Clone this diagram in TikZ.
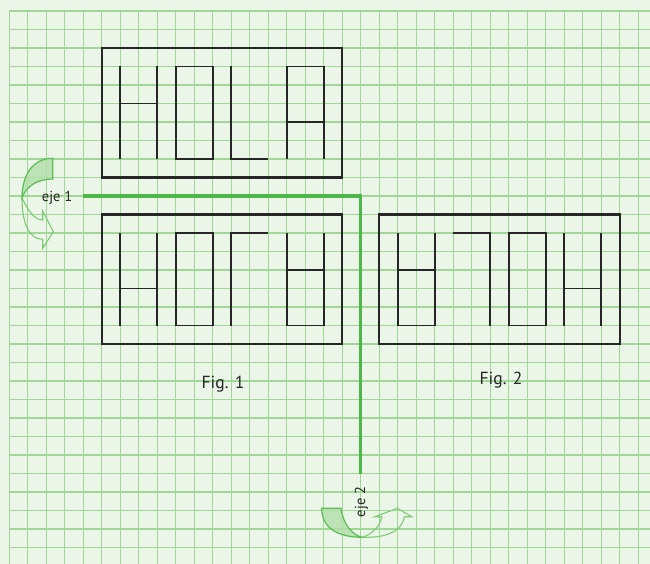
\documentclass[tikz,border=0pt]{standalone}
\usepackage{fontspec}
\setmainfont{PT Sans}
\definecolor{bgc}{RGB}{235,245,232}
\definecolor{gridc}{RGB}{160,214,150}
\definecolor{axisc}{RGB}{77,184,72}
\definecolor{ink}{RGB}{38,38,38}
\definecolor{arrc}{RGB}{92,190,82}
\definecolor{arrfill}{RGB}{178,222,170}
\begin{document}
\begin{tikzpicture}[x=1pt,y=-1pt,
  gridline/.style={gridc,line width=1.3pt},
  letter/.style={ink,line width=1.9pt},
  frame/.style={ink,line width=2.1pt},
  axisline/.style={axisc,line width=3pt},
  lbl/.style={text=ink,inner sep=0pt,font=\fontsize{14.5}{14.5}\selectfont},
  figlbl/.style={text=ink,inner sep=0pt,font=\fontsize{17.5}{17.5}\selectfont},
  front/.style={draw=arrc,line width=1.2pt,fill=arrfill,fill opacity=0.8},
  back/.style={draw=arrc!80,line width=1.1pt},
]
\useasboundingbox (0,0) rectangle (650,564);
\fill[bgc] (0,0) rectangle (650,564);
\foreach \k in {0,...,34} \draw[gridline] ({9.3+18.5*\k},11) -- ({9.3+18.5*\k},564);
\foreach \k in {0,...,29} \draw[gridline] (9.3,{11+18.5*\k}) -- (650,{11+18.5*\k});

\begin{scope}[x=18.5pt,y=-18.5pt,shift={(9.3pt,-11pt)}]
  % Fig. 1 top: HOLA
  \draw[frame] (5,2) rectangle (18,9);
  \draw[letter] (6,3)--(6,8) (8,3)--(8,8) (6,5)--(8,5);
  \draw[letter] (9,3) rectangle (11,8);
  \draw[letter] (12,3)--(12,8)--(14,8);
  \draw[letter] (15,8)--(15,3)--(17,3)--(17,8) (15,6)--(17,6);
  % Fig. 1 bottom: reflected
  \draw[frame] (5,11) rectangle (18,18);
  \draw[letter] (6,12)--(6,17) (8,12)--(8,17) (6,15)--(8,15);
  \draw[letter] (9,12) rectangle (11,17);
  \draw[letter] (14,12)--(12,12)--(12,17);
  \draw[letter] (15,12)--(15,17)--(17,17)--(17,12) (15,14)--(17,14);
  % Fig. 2
  \draw[frame] (20,11) rectangle (33,18);
  \draw[letter] (21,12)--(21,17)--(23,17)--(23,12) (21,14)--(23,14);
  \draw[letter] (24,12)--(26,12)--(26,17);
  \draw[letter] (27,12) rectangle (29,17);
  \draw[letter] (30,12)--(30,17) (32,12)--(32,17) (30,15)--(32,15);
  % axes
  \coordinate (e1) at (4,10);
  \coordinate (corner) at (19,10);
  \coordinate (e2) at (19,25);
  \draw[axisline] (e1) -- (corner) -- (e2);
\end{scope}

\node[lbl,anchor=base east] (eje1) at (72.5,201.5) {eje 1};
\node[lbl,rotate=90] (eje2) at (361.5,502) {eje 2};
\node[figlbl] (fig1) at (223,384) {Fig. 1};
\node[figlbl] (fig2) at (501,380) {Fig. 2};

% rotation arrow around eje 1
\filldraw[front] (52.7,158.3) .. controls (32,158.3) and (22,176) .. (22,198)
  .. controls (26,186) and (38,179) .. (52.7,179) -- cycle;
\draw[back] (22,198) .. controls (22,225) and (30,239.3) .. (42.7,239.3)
  -- (42.7,248.3) -- (53.3,231.7) -- (42.7,211) -- (42.7,220)
  .. controls (34,220) and (28,210) .. (22,198);

% rotation arrow around eje 2
\filldraw[front] (321.7,508.3) -- (341,508.3) .. controls (343,524) and (352,535) .. (362.3,537.3)
  .. controls (338,537.3) and (321.7,528) .. (321.7,508.3) -- cycle;
\draw[back] (362.3,537.3) .. controls (372,534) and (380,527) .. (381.7,516.7)
  -- (375,516.7) -- (397.3,508.3) -- (411.7,516.7) -- (404.3,516.7)
  .. controls (402,532) and (385,538) .. (362.3,537.3);
\end{tikzpicture}
\end{document}
